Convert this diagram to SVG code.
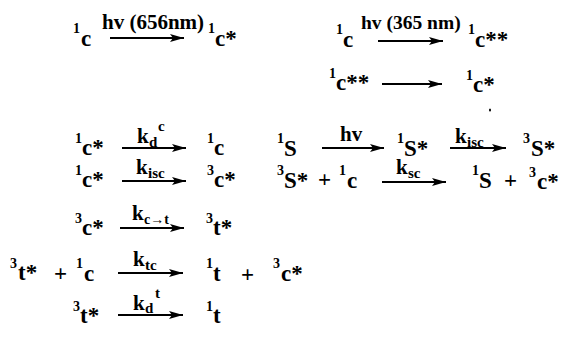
<svg xmlns="http://www.w3.org/2000/svg" width="569" height="341" viewBox="0 0 569 341">
<style>
text{font-family:"Liberation Serif","Times New Roman",serif;font-weight:bold;fill:#000}
.m{font-size:23px}
.s{font-size:14px}
.l{font-size:21px}
.b{font-size:15px}
.arr{stroke:#000;stroke-width:2.2;fill:none;marker-end:url(#ah)}
</style>
<defs>
<marker id="ah" markerUnits="userSpaceOnUse" markerWidth="15" markerHeight="9" refX="14" refY="4.5" orient="auto">
<path d="M0,0.5 L14,4.5 L0,8.5 L3,4.5 z" fill="#000"/>
</marker>
</defs>
<rect width="569" height="341" fill="#fff"/>
<g id="connectors">
<line class="arr" x1="110" y1="38" x2="184" y2="38"/>
<line class="arr" x1="378" y1="41" x2="443" y2="41"/>
<line class="arr" x1="382" y1="84" x2="442" y2="84"/>
<line class="arr" x1="122" y1="148" x2="186" y2="148"/>
<line class="arr" x1="322" y1="148" x2="384" y2="148"/>
<line class="arr" x1="450" y1="148" x2="506" y2="148"/>
<line class="arr" x1="122" y1="181" x2="186" y2="181"/>
<line class="arr" x1="382" y1="182" x2="446" y2="182"/>
<line class="arr" x1="120" y1="228" x2="184" y2="228"/>
<line class="arr" x1="118" y1="273" x2="183" y2="273"/>
<line class="arr" x1="118" y1="315" x2="183" y2="315"/>
</g>
<g id="r1">
<text class="s" x="73" y="33">1</text><text class="m" x="81" y="46">c</text>
<text class="l" x="102" y="29">hv (656nm)</text>
<text class="s" x="208" y="33">1</text><text class="m" x="215" y="46">c*</text>
</g>
<g id="r1b">
<text class="s" x="336" y="34">1</text><text class="m" x="343" y="47">c</text>
<text class="l" x="361" y="29" style="font-size:19.5px">hv (365 nm)</text>
<text class="s" x="468" y="34">1</text><text class="m" x="475" y="47">c**</text>
</g>
<g id="r2">
<text class="s" x="329" y="78">1</text><text class="m" x="336" y="90">c**</text>
<text class="s" x="466" y="80">1</text><text class="m" x="473" y="92">c*</text>
<ellipse cx="490" cy="110" rx="1" ry="1.5" fill="#000"/>
</g>
<g id="r3">
<text class="s" x="75" y="143">1</text><text class="m" x="82" y="155">c*</text>
<text class="l" x="137" y="143">k</text><text class="b" x="149" y="147">d</text><text class="b" x="158" y="131">c</text>
<text class="s" x="207" y="143">1</text><text class="m" x="214" y="155">c</text>
</g>
<g id="r3b">
<text class="s" x="277" y="143">1</text><text class="m" x="284" y="156">S</text>
<text class="l" x="340" y="141">hv</text>
<text class="s" x="397" y="143">1</text><text class="m" x="404" y="156">S*</text>
<text class="l" x="455" y="143">k</text><text class="b" x="467" y="147">isc</text>
<text class="s" x="523" y="143">3</text><text class="m" x="531" y="156">S*</text>
</g>
<g id="r4">
<text class="s" x="75" y="175">1</text><text class="m" x="82" y="187">c*</text>
<text class="l" x="136" y="174">k</text><text class="b" x="148" y="178">isc</text>
<text class="s" x="207" y="175">3</text><text class="m" x="214" y="187">c*</text>
</g>
<g id="r4b">
<text class="s" x="277" y="175">3</text><text class="m" x="284" y="188">S*</text>
<text class="m" x="318" y="187">+</text>
<text class="s" x="339" y="175">1</text><text class="m" x="347" y="188">c</text>
<text class="l" x="396" y="174">k</text><text class="b" x="408" y="178">sc</text>
<text class="s" x="472" y="175">1</text><text class="m" x="479" y="188">S</text>
<text class="m" x="504" y="188">+</text>
<text class="s" x="529" y="177">3</text><text class="m" x="537" y="189">c*</text>
</g>
<g id="r5">
<text class="s" x="75" y="223">3</text><text class="m" x="82" y="235">c*</text>
<text class="l" x="132" y="220">k</text><text class="s" x="144" y="224">c→t</text>
<text class="s" x="206" y="223">3</text><text class="m" x="213" y="235">t*</text>
</g>
<g id="r6">
<text class="s" x="10" y="268">3</text><text class="m" x="18" y="280">t*</text>
<text class="m" x="54" y="281">+</text>
<text class="s" x="76" y="268">1</text><text class="m" x="84" y="281">c</text>
<text class="l" x="133" y="266">k</text><text class="b" x="145" y="270">tc</text>
<text class="s" x="206" y="268">1</text><text class="m" x="213" y="281">t</text>
<text class="m" x="241" y="282">+</text>
<text class="s" x="273" y="268">3</text><text class="m" x="281" y="281">c*</text>
</g>
<g id="r7">
<text class="s" x="73" y="311">3</text><text class="m" x="80" y="323">t*</text>
<text class="l" x="133" y="310">k</text><text class="b" x="145" y="313">d</text><text class="b" x="155" y="298">t</text>
<text class="s" x="206" y="311">1</text><text class="m" x="213" y="323">t</text>
</g>
</svg>
